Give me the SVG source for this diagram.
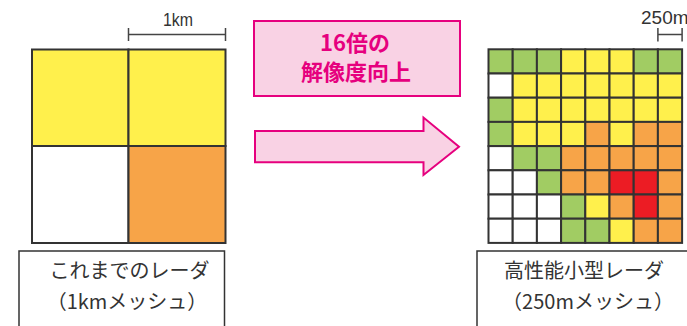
<svg xmlns="http://www.w3.org/2000/svg" width="687" height="326" viewBox="0 0 687 326">
<style>
.c{stroke:#333;stroke-width:2}
.Y{fill:#FFF04C}.O{fill:#F7A448}.G{fill:#A1CC63}.R{fill:#EC1C24}.W{fill:#FFFFFF}
.bar{stroke:#444;stroke-width:1.5;fill:none}
.lbl{font-family:"Noto Sans CJK JP","Liberation Sans",sans-serif;font-size:20px;fill:#333;text-anchor:middle}
.sc{font-family:"Liberation Sans","Noto Sans",sans-serif;font-size:19px;fill:#333}
.pk{font-family:"Noto Sans CJK JP",sans-serif;font-size:22px;font-weight:bold;fill:#E6007E;text-anchor:middle}
.box{fill:#fff;stroke:#333;stroke-width:1.5}
</style>
<rect width="687" height="326" fill="#fff"/>
<g id="old-radar">
<rect class="c Y" x="32" y="49.5" width="96.5" height="96.5"/>
<rect class="c Y" x="128.5" y="49.5" width="97" height="96.5"/>
<rect class="c W" x="32" y="146" width="96.5" height="97"/>
<rect class="c O" x="128.5" y="146" width="97" height="97"/>
<path class="bar" d="M128.5 34.5H225.5M128.5 28V41M225.5 28V41"/>
<text class="sc" x="163" y="26" textLength="30" lengthAdjust="spacingAndGlyphs">1km</text>
<rect class="box" x="19" y="251" width="205.5" height="80"/>
<text class="lbl" x="129.5" y="278" font-size="21">これまでのレーダ</text>
<text class="lbl" x="127" y="309">（1kmメッシュ）</text>
</g>
<g id="improvement">
<rect x="254" y="21" width="206" height="75" fill="#F9D2E4" stroke="#E6007E" stroke-width="2"/>
<text class="pk" x="355" y="51">16倍の</text>
<text class="pk" x="356" y="80">解像度向上</text>
</g>
<g id="connectors">
<path d="M255 131H423.5V117.5L459 146.7L423.5 175V162.3H255Z" fill="#F9D2E4" stroke="#E6007E" stroke-width="2"/>
</g>
<g id="new-radar">
<g class="c">
<rect class="G" x="488.5" y="49.3" width="24.2" height="24.2"/><rect class="G" x="512.7" y="49.3" width="24.2" height="24.2"/><rect class="G" x="536.9" y="49.3" width="24.2" height="24.2"/><rect class="Y" x="561.1" y="49.3" width="24.2" height="24.2"/><rect class="Y" x="585.3" y="49.3" width="24.2" height="24.2"/><rect class="Y" x="609.5" y="49.3" width="24.2" height="24.2"/><rect class="G" x="633.7" y="49.3" width="24.2" height="24.2"/><rect class="G" x="657.9" y="49.3" width="24.2" height="24.2"/>
<rect class="W" x="488.5" y="73.5" width="24.2" height="24.2"/><rect class="Y" x="512.7" y="73.5" width="24.2" height="24.2"/><rect class="Y" x="536.9" y="73.5" width="24.2" height="24.2"/><rect class="Y" x="561.1" y="73.5" width="24.2" height="24.2"/><rect class="Y" x="585.3" y="73.5" width="24.2" height="24.2"/><rect class="Y" x="609.5" y="73.5" width="24.2" height="24.2"/><rect class="Y" x="633.7" y="73.5" width="24.2" height="24.2"/><rect class="Y" x="657.9" y="73.5" width="24.2" height="24.2"/>
<rect class="G" x="488.5" y="97.7" width="24.2" height="24.2"/><rect class="Y" x="512.7" y="97.7" width="24.2" height="24.2"/><rect class="Y" x="536.9" y="97.7" width="24.2" height="24.2"/><rect class="Y" x="561.1" y="97.7" width="24.2" height="24.2"/><rect class="Y" x="585.3" y="97.7" width="24.2" height="24.2"/><rect class="Y" x="609.5" y="97.7" width="24.2" height="24.2"/><rect class="Y" x="633.7" y="97.7" width="24.2" height="24.2"/><rect class="Y" x="657.9" y="97.7" width="24.2" height="24.2"/>
<rect class="G" x="488.5" y="121.9" width="24.2" height="24.2"/><rect class="Y" x="512.7" y="121.9" width="24.2" height="24.2"/><rect class="Y" x="536.9" y="121.9" width="24.2" height="24.2"/><rect class="Y" x="561.1" y="121.9" width="24.2" height="24.2"/><rect class="O" x="585.3" y="121.9" width="24.2" height="24.2"/><rect class="Y" x="609.5" y="121.9" width="24.2" height="24.2"/><rect class="O" x="633.7" y="121.9" width="24.2" height="24.2"/><rect class="O" x="657.9" y="121.9" width="24.2" height="24.2"/>
<rect class="W" x="488.5" y="146.1" width="24.2" height="24.2"/><rect class="G" x="512.7" y="146.1" width="24.2" height="24.2"/><rect class="G" x="536.9" y="146.1" width="24.2" height="24.2"/><rect class="O" x="561.1" y="146.1" width="24.2" height="24.2"/><rect class="O" x="585.3" y="146.1" width="24.2" height="24.2"/><rect class="O" x="609.5" y="146.1" width="24.2" height="24.2"/><rect class="O" x="633.7" y="146.1" width="24.2" height="24.2"/><rect class="O" x="657.9" y="146.1" width="24.2" height="24.2"/>
<rect class="W" x="488.5" y="170.3" width="24.2" height="24.2"/><rect class="W" x="512.7" y="170.3" width="24.2" height="24.2"/><rect class="G" x="536.9" y="170.3" width="24.2" height="24.2"/><rect class="O" x="561.1" y="170.3" width="24.2" height="24.2"/><rect class="O" x="585.3" y="170.3" width="24.2" height="24.2"/><rect class="R" x="609.5" y="170.3" width="24.2" height="24.2"/><rect class="R" x="633.7" y="170.3" width="24.2" height="24.2"/><rect class="O" x="657.9" y="170.3" width="24.2" height="24.2"/>
<rect class="W" x="488.5" y="194.5" width="24.2" height="24.2"/><rect class="W" x="512.7" y="194.5" width="24.2" height="24.2"/><rect class="W" x="536.9" y="194.5" width="24.2" height="24.2"/><rect class="G" x="561.1" y="194.5" width="24.2" height="24.2"/><rect class="Y" x="585.3" y="194.5" width="24.2" height="24.2"/><rect class="O" x="609.5" y="194.5" width="24.2" height="24.2"/><rect class="R" x="633.7" y="194.5" width="24.2" height="24.2"/><rect class="O" x="657.9" y="194.5" width="24.2" height="24.2"/>
<rect class="W" x="488.5" y="218.7" width="24.2" height="24.2"/><rect class="W" x="512.7" y="218.7" width="24.2" height="24.2"/><rect class="W" x="536.9" y="218.7" width="24.2" height="24.2"/><rect class="G" x="561.1" y="218.7" width="24.2" height="24.2"/><rect class="G" x="585.3" y="218.7" width="24.2" height="24.2"/><rect class="Y" x="609.5" y="218.7" width="24.2" height="24.2"/><rect class="O" x="633.7" y="218.7" width="24.2" height="24.2"/><rect class="O" x="657.9" y="218.7" width="24.2" height="24.2"/>
</g>
<path class="bar" d="M657.9 34.5H682.1M657.9 28V41.5M682.1 28V41.5"/>
<text class="sc" x="641" y="23.5" font-size="17">250m</text>
<rect class="box" x="477" y="251" width="230" height="80"/>
<text class="lbl" x="584" y="278" font-size="22">高性能小型レーダ</text>
<text class="lbl" x="588" y="309">（250mメッシュ）</text>
</g>
</svg>
